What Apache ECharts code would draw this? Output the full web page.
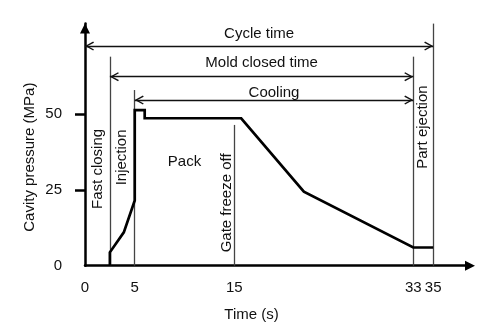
<!DOCTYPE html>
<html>
<head>
<meta charset="utf-8">
<script src="https://cdn.jsdelivr.net/npm/echarts@6/dist/echarts.min.js"></script>
<style>
html,body{margin:0;padding:0;background:#ffffff;}
#chart{width:491px;height:330px;}
</style>
</head>
<body>
<div id="chart"></div>
<script>
// ---- data ----
const timeSec      = [2.5, 2.5, 3.9, 5,    5,    6,    6,    15.7, 22,   33, 35];
const pressureMPa  = [0,   4.4, 11,  21.5, 51.3, 51.3, 48.6, 48.6, 24.4, 6,  6];
const xTickValues  = [0, 5, 15, 33, 35];
const yTickValues  = [0, 25, 50];
const markerTimes  = [2.5, 5, 15, 33, 35];
const spanNames    = ['Cycle time', 'Mold closed time', 'Cooling'];
const spanFrom     = [0, 2.5, 5];
const spanTo       = [35, 33, 33];
const stageNames   = ['Fast closing', 'Injection', 'Pack', 'Gate freeze off', 'Part ejection'];
const stageFrom    = [0, 2.5, 5, 15, 33];
const stageTo      = [2.5, 5, 15, 15, 35];

// ---- layout (annotation placement, not data) ----
const layout = {
  markerTop: [68.9, 57.9, 46.4, 68.9, 79.8],
  spanLevel: [72.4, 62.3, 54.6],
  spanLabelGap: [5, 6, 0],
  stageY: [31.9, 35.7, 34.2, 20.7, 45.7],
  stageDx: [0, 0, 0, -0.75, 0],
  stageRotate: [90, 90, 0, 90, 90]
};

const FONT = '"Liberation Sans", Arial, Helvetica, sans-serif';
const TXT = '#111111';
const chevron = 'path://M5,0.2 M5,9 L10,17 L8.8,17.8 L5,11.7 L1.2,17.8 L0,17 Z';

const chart = echarts.init(document.getElementById('chart'), null, {renderer: 'canvas'});

const option = {
  animation: false,
  backgroundColor: '#ffffff',
  textStyle: {fontFamily: FONT, color: TXT},
  grid: {left: 85, right: 21, top: 23.6, bottom: 64.3, containLabel: false, outerBoundsMode: 'none'},
  xAxis: {
    type: 'value', min: 0, max: 38.7,
    axisLine: {show: true, onZero: false, symbol: ['none', 'triangle'], symbolSize: [10, 10],
      lineStyle: {color: '#000', width: 2.5}},
    axisTick: {show: false},
    splitLine: {show: false},
    axisLabel: {customValues: xTickValues, margin: 15, color: TXT, fontSize: 15, fontFamily: FONT},
    name: 'Time (s)', nameLocation: 'middle', nameGap: 42, nameMoveOverlap: false,
    nameTextStyle: {fontSize: 15, color: TXT, fontFamily: FONT, padding: [0, 52, 0, 0]}
  },
  yAxis: {
    type: 'value', min: 0, max: 79.8,
    axisLine: {show: true, onZero: false, symbol: ['none', 'triangle'], symbolSize: [10, 10],
      symbolOffset: [0, -5], lineStyle: {color: '#000', width: 2.5}},
    axisTick: {show: true, customValues: [25, 50], length: 10, lineStyle: {color: '#000', width: 2.5}},
    splitLine: {show: false},
    axisLabel: {customValues: yTickValues, margin: 23, color: TXT, fontSize: 15, fontFamily: FONT},
    name: 'Cavity pressure (MPa)', nameLocation: 'middle', nameGap: 48, nameMoveOverlap: false,
    nameTextStyle: {fontSize: 15, color: TXT, fontFamily: FONT, padding: [0, 25, 0, 0]}
  },
  series: [
    {
      type: 'line', name: 'Cavity pressure', silent: true, z: 3,
      data: timeSec.map((t, i) => [t, pressureMPa[i]]),
      symbol: 'none',
      lineStyle: {color: '#000', width: 2.7, join: 'miter'}
    },
    {
      type: 'line', name: 'markers', data: [], silent: true,
      markLine: {
        silent: true, symbol: 'none', z: 1, animation: false,
        lineStyle: {color: '#444', width: 1.3, type: 'solid'},
        label: {show: false},
        emphasis: {disabled: true},
        data: markerTimes.map((t, i) => [{coord: [t, 0]}, {coord: [t, layout.markerTop[i]]}])
      }
    },
    {
      type: 'line', name: 'spans', data: [], silent: true,
      markLine: {
        silent: true, symbol: [chevron, chevron], symbolSize: [9, 18], z: 2, animation: false,
        lineStyle: {color: '#111', width: 1.4, type: 'solid'},
        emphasis: {disabled: true},
        label: {show: true, position: 'middle', color: TXT, fontSize: 15, fontFamily: FONT},
        data: spanNames.map((n, i) => [
          {coord: [spanFrom[i], layout.spanLevel[i]], name: n,
           label: {formatter: n, distance: layout.spanLabelGap[i]}},
          {coord: [spanTo[i], layout.spanLevel[i]]}
        ])
      }
    }
  ]
};
chart.setOption(option);

// stage labels, placed at data coordinates converted through the chart's own axes
const stageGraphics = stageNames.map((n, i) => {
  const pt = chart.convertToPixel({gridIndex: 0},
    [(stageFrom[i] + stageTo[i]) / 2 + layout.stageDx[i], layout.stageY[i]]);
  return {
    type: 'text', x: pt[0], y: pt[1], silent: true, z: 10,
    rotation: layout.stageRotate[i] * Math.PI / 180,
    style: {text: n, fill: TXT, font: '15px ' + FONT, align: 'center', verticalAlign: 'middle'}
  };
});
chart.setOption({graphic: stageGraphics});
</script>
</body>
</html>
